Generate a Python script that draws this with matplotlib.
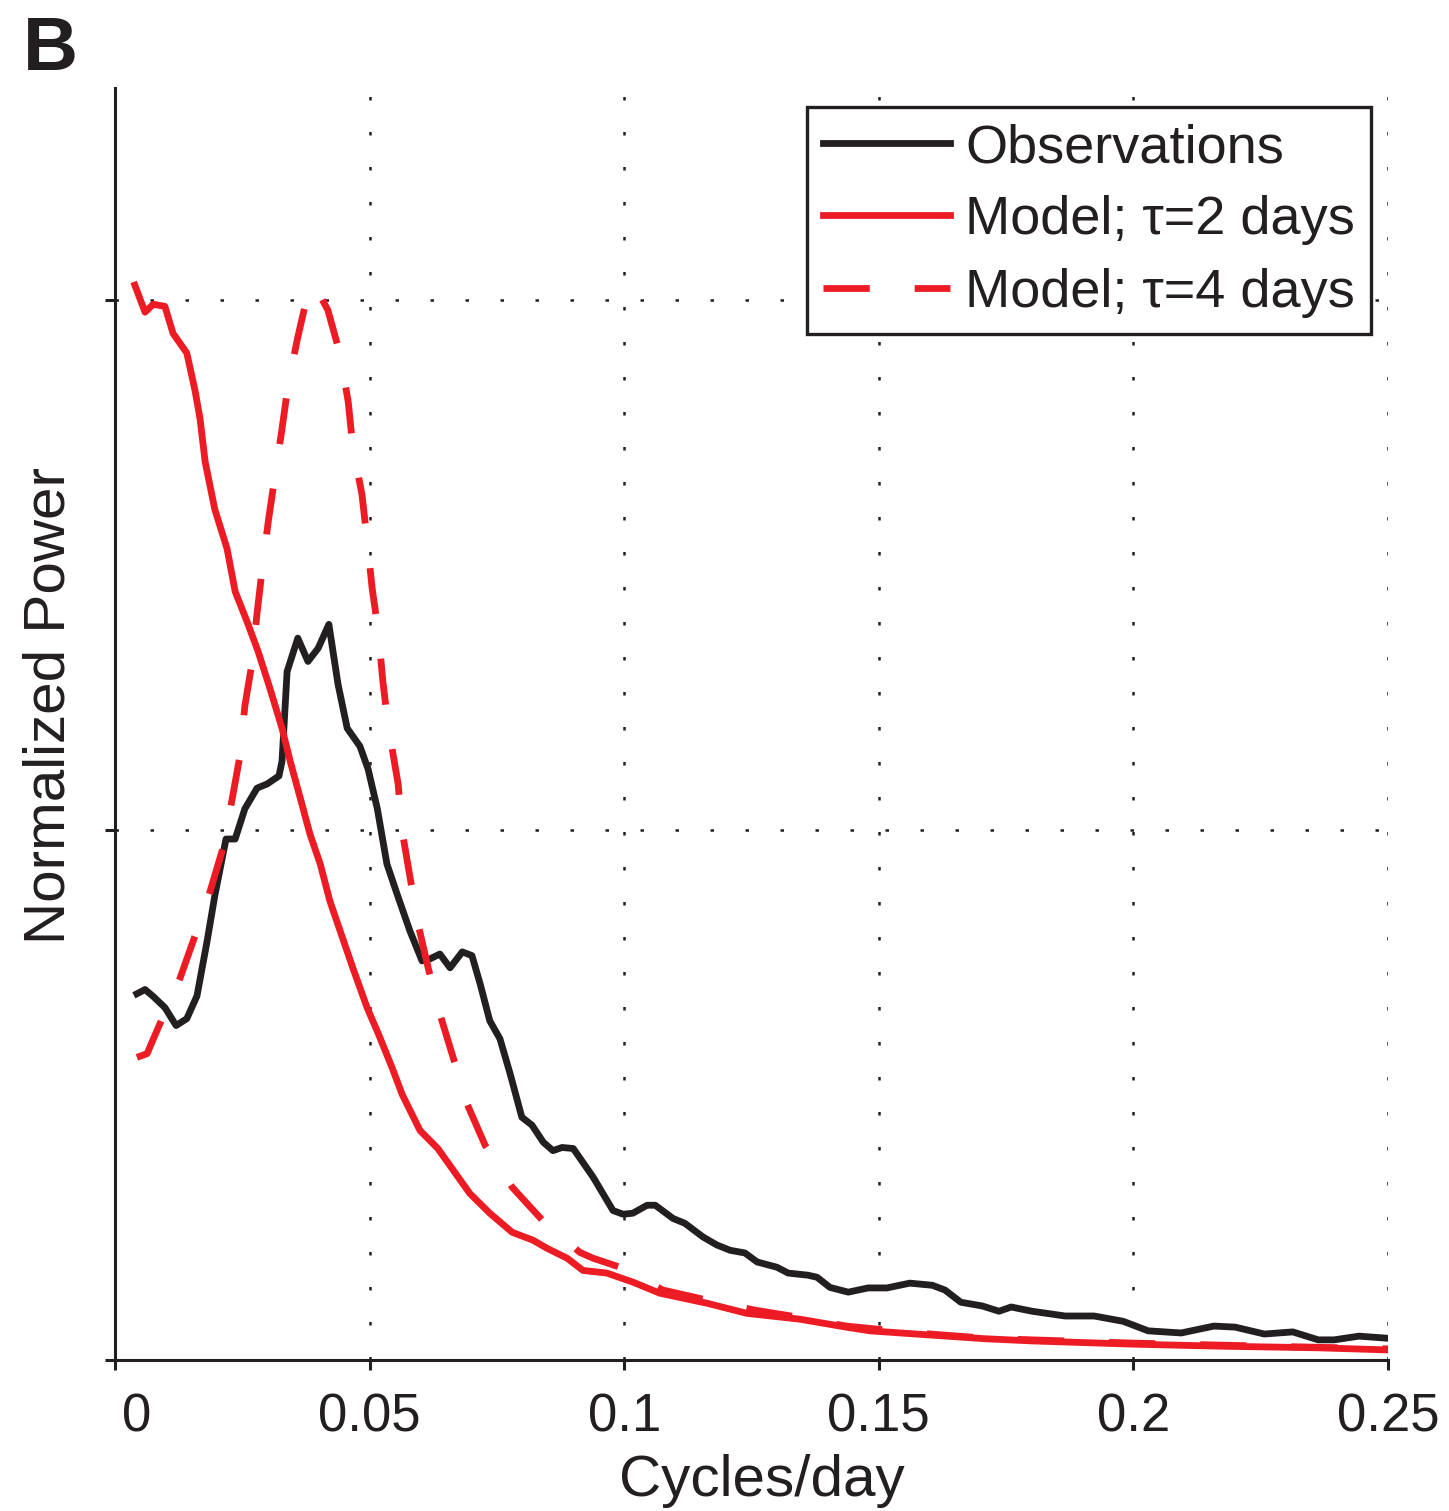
import matplotlib
matplotlib.use("Agg")
import matplotlib.pyplot as plt
from matplotlib.transforms import ScaledTranslation

plt.rcParams['font.family'] = ['Liberation Sans', 'DejaVu Sans']

# ---- data ----
obs_f = [0.0043, 0.0059, 0.0075, 0.0098, 0.0120, 0.0141, 0.0161, 0.0181, 0.0196, 0.0218,
         0.0236, 0.0255, 0.0279, 0.0299, 0.0322, 0.0328, 0.0338, 0.0359, 0.0379, 0.0399,
         0.0420, 0.0438, 0.0456, 0.0481, 0.0497, 0.0515, 0.0534, 0.0554, 0.0579, 0.0603,
         0.0619, 0.0638, 0.0658, 0.0682, 0.0701, 0.0717, 0.0736, 0.0756, 0.0776, 0.0799,
         0.0819, 0.0841, 0.0860, 0.0878, 0.0900, 0.0939, 0.0978, 0.0998, 0.1017, 0.1045,
         0.1061, 0.1096, 0.1119, 0.1155, 0.1182, 0.1208, 0.1237, 0.1261, 0.1300, 0.1322,
         0.1361, 0.1379, 0.1404, 0.1440, 0.1479, 0.1516, 0.1561, 0.1605, 0.1630, 0.1661,
         0.1703, 0.1736, 0.1760, 0.1801, 0.1866, 0.1923, 0.1980, 0.2029, 0.2094, 0.2158,
         0.2200, 0.2257, 0.2313, 0.2363, 0.2394, 0.2443, 0.2500]
obs_p = [0.691, 0.699, 0.686, 0.665, 0.631, 0.644, 0.687, 0.791, 0.876, 0.983,
         0.983, 1.040, 1.079, 1.087, 1.102, 1.130, 1.299, 1.362, 1.318, 1.343,
         1.388, 1.275, 1.192, 1.158, 1.115, 1.041, 0.936, 0.879, 0.810, 0.753,
         0.757, 0.766, 0.740, 0.770, 0.763, 0.710, 0.640, 0.606, 0.540, 0.458,
         0.443, 0.411, 0.395, 0.401, 0.399, 0.345, 0.282, 0.275, 0.277, 0.292,
         0.292, 0.267, 0.258, 0.232, 0.217, 0.207, 0.202, 0.185, 0.175, 0.164,
         0.160, 0.156, 0.137, 0.128, 0.136, 0.136, 0.145, 0.141, 0.132, 0.109,
         0.102, 0.092, 0.100, 0.092, 0.083, 0.083, 0.073, 0.055, 0.051, 0.064,
         0.062, 0.049, 0.053, 0.038, 0.038, 0.045, 0.041]

tau2_f = [0.0039, 0.0059, 0.0075, 0.0098, 0.0114, 0.0141, 0.0157, 0.0167, 0.0177, 0.0196,
          0.0220, 0.0236, 0.0259, 0.0281, 0.0304, 0.0328, 0.0344, 0.0367, 0.0383, 0.0403,
          0.0422, 0.0442, 0.0467, 0.0495, 0.0517, 0.0544, 0.0564, 0.0599, 0.0634, 0.0697,
          0.0736, 0.0780, 0.0821, 0.0848, 0.0888, 0.0919, 0.0966, 0.1017, 0.1070, 0.1163,
          0.1241, 0.1345, 0.1436, 0.1483, 0.1573, 0.1711, 0.1801, 0.1995, 0.2174, 0.2363,
          0.2500]
tau2_p = [2.028, 1.977, 1.992, 1.988, 1.937, 1.900, 1.830, 1.776, 1.695, 1.605,
          1.531, 1.450, 1.394, 1.337, 1.268, 1.192, 1.130, 1.049, 0.992, 0.936,
          0.866, 0.810, 0.740, 0.665, 0.616, 0.552, 0.501, 0.433, 0.399, 0.314,
          0.277, 0.241, 0.226, 0.211, 0.192, 0.169, 0.164, 0.147, 0.126, 0.107,
          0.088, 0.077, 0.062, 0.055, 0.049, 0.040, 0.036, 0.030, 0.026, 0.023,
          0.019]

tau4_f = [0.0043, 0.0063, 0.0088, 0.0128, 0.0157, 0.0187, 0.0212, 0.0230, 0.0246, 0.0255,
          0.0269, 0.0279, 0.0289, 0.0301, 0.0314, 0.0328, 0.0340, 0.0359, 0.0379, 0.0391,
          0.0418, 0.0442, 0.0458, 0.0467, 0.0485, 0.0495, 0.0505, 0.0517, 0.0526, 0.0536,
          0.0556, 0.0564, 0.0579, 0.0595, 0.0615, 0.0638, 0.0664, 0.0691, 0.0727, 0.0780,
          0.0839, 0.0913, 0.0939, 0.0992, 0.1076, 0.1163, 0.1257, 0.1341, 0.1436, 0.1573,
          0.1711, 0.1801, 0.1995, 0.2174, 0.2363, 0.2500]
tau4_p = [0.571, 0.578, 0.634, 0.721, 0.800, 0.885, 0.966, 1.058, 1.143, 1.234,
          1.315, 1.409, 1.492, 1.582, 1.667, 1.757, 1.840, 1.930, 2.013, 2.030,
          1.981, 1.898, 1.808, 1.723, 1.633, 1.548, 1.456, 1.375, 1.281, 1.200,
          1.087, 0.998, 0.913, 0.823, 0.740, 0.653, 0.571, 0.484, 0.405, 0.326,
          0.264, 0.203, 0.192, 0.175, 0.132, 0.113, 0.094, 0.081, 0.064, 0.051,
          0.041, 0.038, 0.032, 0.028, 0.024, 0.021]

x_ticks = [0, 0.05, 0.1, 0.15, 0.2, 0.25]
x_ticklabels = ['0', '0.05', '0.1', '0.15', '0.2', '0.25']
y_ticks = [0, 1, 2]
labels = ['Observations', 'Model; τ=2 days', 'Model; τ=4 days']

RED = '#ED1C24'
BLACK = '#231F20'

W, H = 1449, 1511
fig = plt.figure(figsize=(W / 100, H / 100), dpi=100)
ax = fig.add_axes([115 / W, 1 - 1360 / H, (1388 - 115) / W, (1360 - 88) / H])

lw = 4.9
ax.plot(obs_f, obs_p, color=BLACK, lw=lw, label=labels[0], zorder=3)
ax.plot(tau2_f, tau2_p, color=RED, lw=lw, label=labels[1], zorder=4)
ax.plot(tau4_f, tau4_p, color=RED, lw=lw, label=labels[2], zorder=5,
        linestyle=(0, (6.8, 6.6)))

ax.set_xlim(0, 0.25)
ax.set_ylim(0, 2.4)
ax.set_xticks(x_ticks)
ax.set_xticklabels(x_ticklabels)
ax.set_yticks(y_ticks)
ax.set_yticklabels([])

for s in ['top', 'right']:
    ax.spines[s].set_visible(False)
for s in ['left', 'bottom']:
    ax.spines[s].set_linewidth(2.2)
    ax.spines[s].set_color(BLACK)

ax.tick_params(axis='both', direction='out', length=7.2, width=2.2, color=BLACK,
               labelsize=38, labelcolor=BLACK)
ax.tick_params(axis='x', pad=16)

ax.grid(True, color=BLACK, lw=1.8, linestyle=(0, (1.4, 12.6)))
ax.set_axisbelow(True)

# shift the "0" label right as in the reference
lab0 = ax.xaxis.get_major_ticks()[0].label1
lab0.set_transform(lab0.get_transform() + ScaledTranslation(0.22, 0, fig.dpi_scale_trans))

ax.set_xlabel('Cycles/day', fontsize=42, color=BLACK)
ax.set_ylabel('Normalized Power', fontsize=42, color=BLACK)
ax.xaxis.set_label_coords((762 - 115) / 1273, -(1454 - 1360) / 1272)
ax.yaxis.set_label_coords(-(115 - 77) / 1273, (1360 - 705) / 1272)

leg = ax.legend(loc='upper right', bbox_to_anchor=(1371 / W, 1 - 107 / H),
                bbox_transform=fig.transFigure, borderaxespad=0,
                fontsize=39, frameon=True, fancybox=False, framealpha=1,
                edgecolor=BLACK, borderpad=0.3, labelspacing=0.41,
                handlelength=2.35, handletextpad=0.27)
leg.get_frame().set_linewidth(2.4)
for t in leg.get_texts():
    t.set_color(BLACK)

fig.text(23 / W, 1 - 15 / H, 'B', fontsize=55, fontweight='bold', va='top',
         ha='left', color=BLACK)

fig.savefig('out.png', dpi=100)
